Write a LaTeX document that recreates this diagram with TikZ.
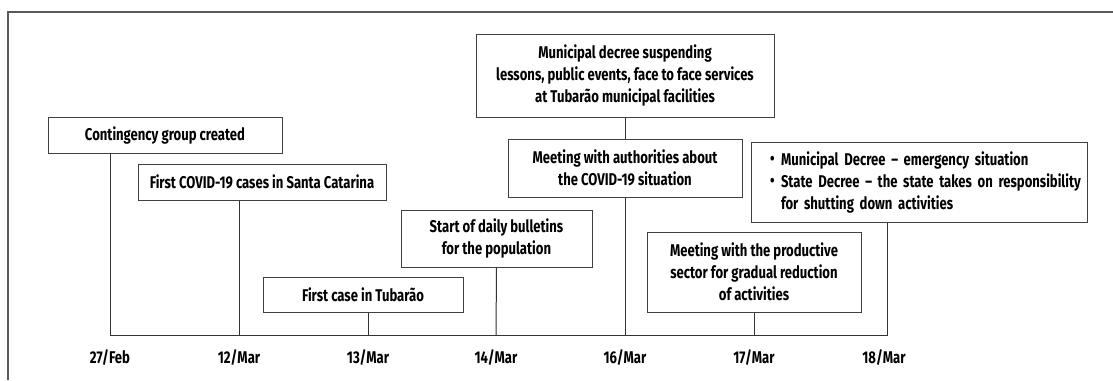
\documentclass[tikz,border=0pt]{standalone}
\usepackage{fontspec}
\setmainfont{Fira Sans}[FakeStretch=0.77]
\newcommand{\bulletitem}{\hspace*{19pt}\makebox[11pt][l]{\raisebox{0.5pt}{\textbullet}}}
\begin{document}
\begin{tikzpicture}[x=1pt,y=-1pt,
  evbox/.style={draw=black!75, line width=1pt, rectangle, inner sep=0pt,
    font=\fontsize{17}{22}\selectfont\bfseries, align=center, text=black},
  conn/.style={draw=black!80, line width=1pt},
  datelbl/.style={font=\fontsize{17}{20}\selectfont\bfseries, text=black, inner sep=0pt},
  framec/.style={draw=black!65, line width=1.1pt}]
\useasboundingbox (0,0) rectangle (1113,380);
\draw[framec] (8,380) -- (8,12) -- (1113,12);

% baseline ticks
\coordinate (t1) at (110,335);
\coordinate (t2) at (239,335);
\coordinate (t3) at (368,335);
\coordinate (t4) at (496,335);
\coordinate (t5) at (625,335);
\coordinate (t6) at (754,335);
\coordinate (t7) at (887,335);

% boxes
\node[evbox, minimum width=234, minimum height=36] (cont) at (165,135) {Contingency group created};
\node[evbox, minimum width=248, minimum height=36] (firstsc) at (262,182) {First COVID-19 cases in Santa Catarina};
\node[evbox, minimum width=200, minimum height=35] (firsttub) at (363,294.5) {First case in Tubarão};
\node[evbox, minimum width=191, minimum height=57] (bull) at (496.5,238.5) {Start of daily bulletins\\for the population};
\node[evbox, minimum width=298, minimum height=83] (decree) at (625,75.5) {Municipal decree suspending\\lessons, public events, face to face services\\at Tubarão municipal facilities};
\node[evbox, minimum width=234, minimum height=58] (meetauth) at (625,168) {Meeting with authorities about\\the COVID-19 situation};
\node[evbox, minimum width=214, minimum height=80] (meetprod) at (754,272) {Meeting with the productive\\sector for gradual reduction\\of activities};
\node[evbox, minimum width=336, minimum height=80, align=left, text width=336] (decrees) at (919,182)
  {\bulletitem Municipal Decree – emergency situation\\
   \bulletitem State Decree – the state takes on responsibility\\
   \hspace*{30pt}for shutting down activities};

% connectors
\draw[conn] (cont.south -| t1) -- (t1) -- (t7) -- (decrees.south -| t7);
\draw[conn] (firstsc.south -| t2) -- (t2);
\draw[conn] (firsttub.south -| t3) -- (t3);
\draw[conn] (bull.south) -- (t4);
\draw[conn] (decree.south) -- (meetauth.north);
\draw[conn] (meetauth.south) -- (t5);
\draw[conn] (meetprod.south) -- (t6);

% date labels
\node[datelbl] (d1) at (110,358) {27/Feb};
\node[datelbl] (d2) at (239,358) {12/Mar};
\node[datelbl] (d3) at (368,358) {13/Mar};
\node[datelbl] (d4) at (496,358) {14/Mar};
\node[datelbl] (d5) at (625,358) {16/Mar};
\node[datelbl] (d6) at (754,358) {17/Mar};
\node[datelbl] (d7) at (884,358) {18/Mar};
\end{tikzpicture}
\end{document}
